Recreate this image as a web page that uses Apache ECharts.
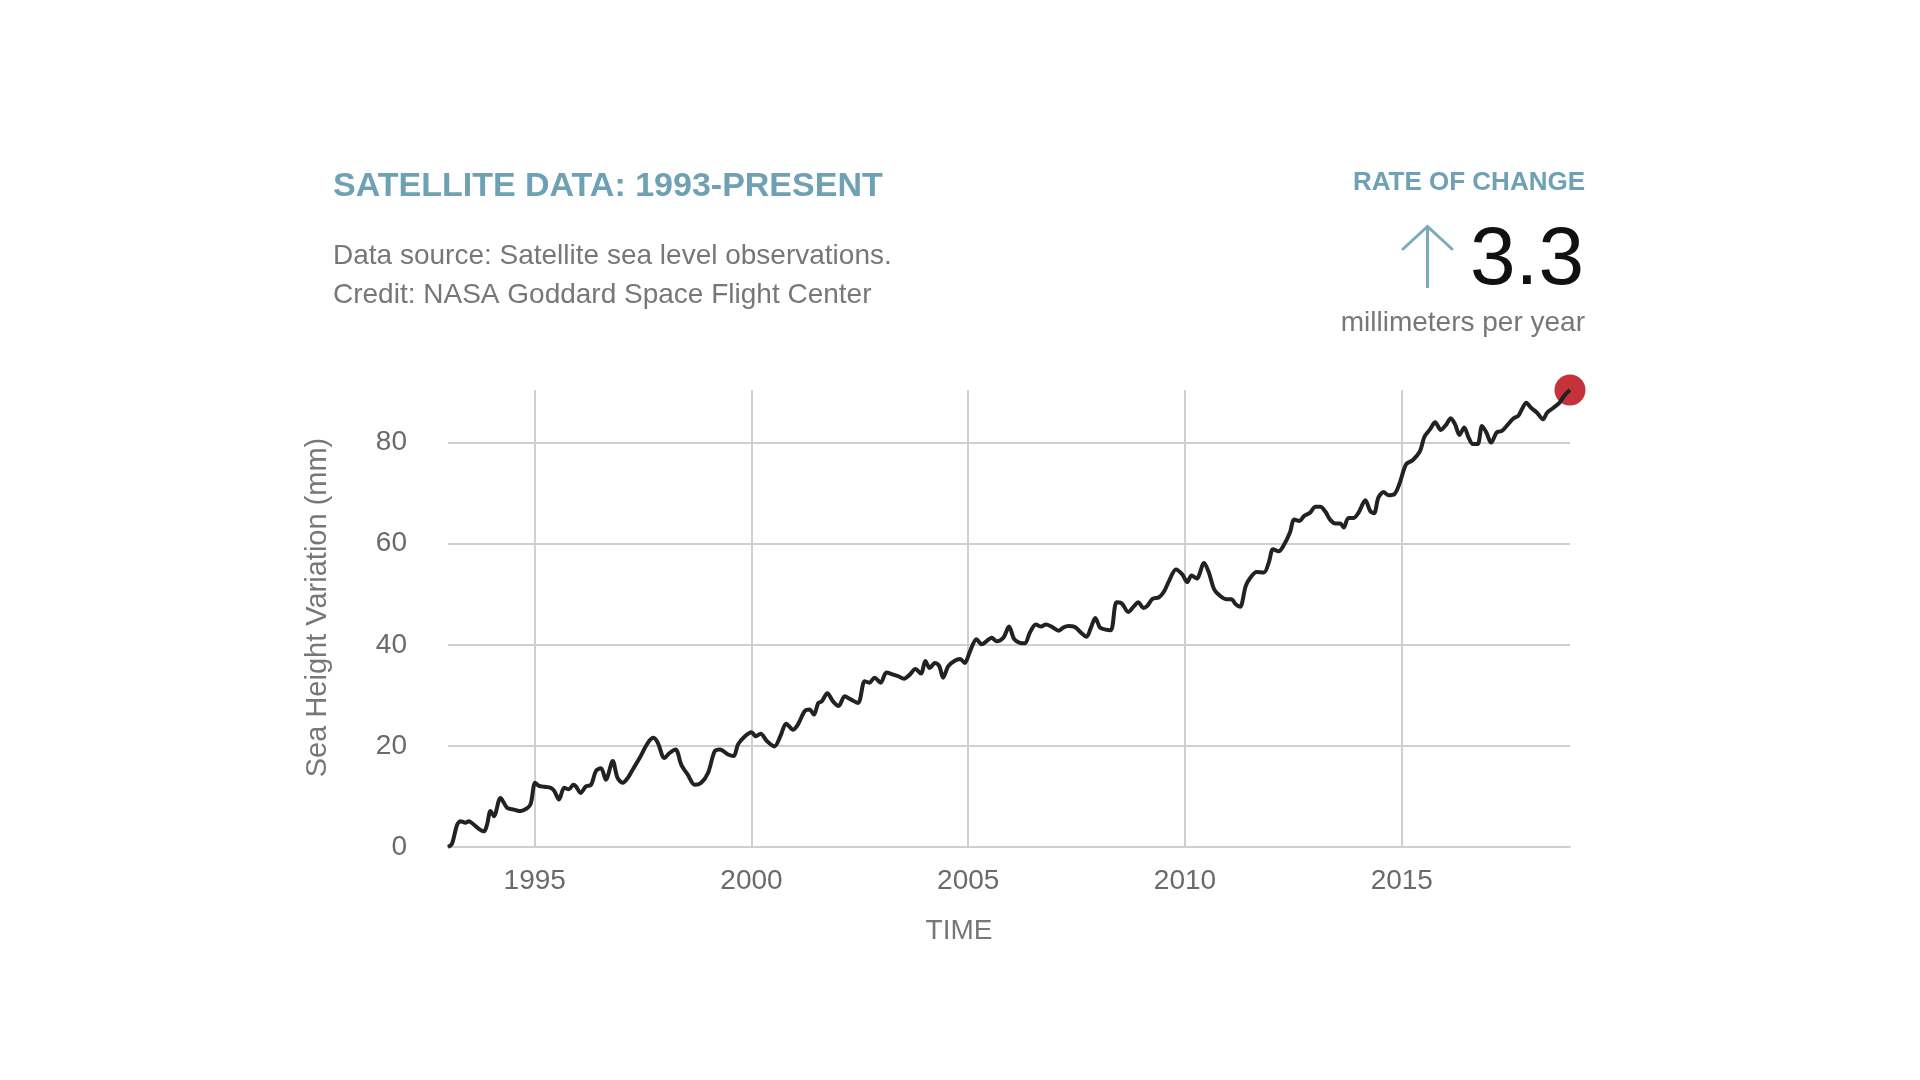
<!DOCTYPE html>
<html>
<head>
<meta charset="utf-8">
<style>
html,body{margin:0;padding:0;background:#fff;}
#chart{width:1920px;height:1080px;}
</style>
<script src="https://cdn.jsdelivr.net/npm/echarts@6/dist/echarts.min.js"></script>
</head>
<body>
<div id="chart"></div>
<script>
const years = [
1993.00,1993.09,1993.21,1993.29,1993.40,1993.48,1993.60,1993.71,1993.83,1993.90,1993.98,1994.06,1994.21,1994.37,1994.52,1994.64,1994.83,1994.91,
1995.01,1995.10,1995.22,1995.37,1995.45,1995.56,1995.68,1995.79,1995.89,1995.95,1996.06,1996.18,1996.30,1996.41,1996.53,1996.64,1996.80,1996.91,
1997.03,1997.15,1997.26,1997.42,1997.61,1997.74,1997.84,1997.99,1998.11,1998.25,1998.38,1998.53,1998.69,1998.84,1999.00,1999.15,1999.27,1999.46,
1999.59,1999.69,1999.85,2000.00,2000.10,2000.21,2000.36,2000.53,2000.67,2000.80,2000.96,2001.07,2001.23,2001.34,2001.44,2001.54,2001.62,2001.75,
2001.88,2002.01,2002.15,2002.29,2002.46,2002.61,2002.72,2002.84,2002.98,2003.11,2003.27,2003.38,2003.52,2003.65,2003.78,2003.91,2004.01,2004.11,
2004.23,2004.33,2004.42,2004.54,2004.68,2004.81,2004.92,2005.04,2005.19,2005.31,2005.42,2005.54,2005.65,2005.81,2005.94,2006.06,2006.19,2006.31,
2006.42,2006.56,2006.68,2006.79,2006.92,2007.09,2007.19,2007.31,2007.46,2007.60,2007.73,2007.83,2007.93,2008.04,2008.17,2008.29,2008.42,2008.54,
2008.69,2008.83,2008.92,2009.04,2009.13,2009.25,2009.40,2009.52,2009.63,2009.79,2009.94,2010.05,2010.15,2010.27,2010.44,2010.55,2010.67,2010.82,
2010.96,2011.07,2011.17,2011.27,2011.40,2011.51,2011.65,2011.82,2011.93,2012.03,2012.16,2012.29,2012.42,2012.52,2012.64,2012.75,2012.88,2013.01,
2013.12,2013.24,2013.35,2013.47,2013.58,2013.66,2013.77,2013.89,2014.00,2014.16,2014.27,2014.36,2014.46,2014.58,2014.69,2014.83,2014.94,2015.10,
2015.25,2015.42,2015.52,2015.65,2015.77,2015.90,2016.02,2016.13,2016.23,2016.33,2016.44,2016.54,2016.64,2016.75,2016.85,2016.95,2017.06,2017.19,
2017.31,2017.42,2017.58,2017.69,2017.77,2017.87,2017.98,2018.12,2018.26,2018.35,2018.50,2018.64,2018.75,2018.88
];
const seaLevel = [
0.0,0.6,4.4,5.1,4.8,5.1,4.4,3.6,3.1,4.4,7.1,6.1,9.7,7.7,7.4,7.1,7.7,8.6,
12.7,12.1,11.9,11.7,11.1,9.4,11.7,11.4,12.3,12.0,10.7,12.0,12.3,15.0,15.6,13.3,17.0,13.7,
12.7,13.7,15.3,17.6,20.6,21.6,20.6,17.6,18.6,19.3,16.3,14.3,12.3,12.7,14.7,18.9,19.3,18.3,
18.0,20.3,21.9,22.7,21.9,22.4,20.9,19.9,22.0,24.4,23.2,24.2,26.9,27.2,26.2,28.5,28.8,30.4,
28.8,27.9,29.8,29.2,28.5,32.8,32.5,33.5,32.5,34.5,34.1,33.8,33.3,34.1,35.2,34.3,36.8,35.4,
36.4,35.8,33.5,35.8,36.8,37.2,36.4,38.7,41.1,40.1,40.7,41.4,40.7,41.4,43.6,41.1,40.4,40.3,
42.4,44.0,43.6,44.0,43.6,42.8,43.4,43.7,43.5,42.4,41.6,43.4,45.3,43.4,43.0,42.9,48.4,48.2,
46.5,47.7,48.4,47.3,47.7,49.1,49.4,50.6,52.6,54.9,53.9,52.4,53.7,53.1,56.2,54.3,51.0,49.6,
49.0,49.0,48.0,47.5,51.6,53.3,54.4,54.3,56.2,58.9,58.5,59.9,62.2,64.8,64.5,65.5,66.1,67.3,
67.3,66.3,64.7,64.0,64.0,63.2,65.1,65.1,66.1,68.6,66.5,66.0,69.1,70.2,69.6,69.8,71.7,75.7,
76.5,78.3,81.1,82.6,84.0,82.5,83.5,84.8,83.6,81.5,83.0,81.0,79.7,79.7,83.3,82.0,80.0,82.0,
82.3,83.3,84.8,85.3,86.6,87.9,86.9,85.9,84.6,85.9,86.9,87.9,89.3,90.4
];
const titleText = 'SATELLITE DATA: 1993-PRESENT';
const sourceLines = ['Data source: Satellite sea level observations.', 'Credit: NASA Goddard Space Flight Center'];
const rateLabel = 'RATE OF CHANGE';
const rateValue = '3.3';
const rateUnit = 'millimeters per year';
const xName = 'TIME';
const yName = 'Sea Height Variation (mm)';

const seriesData = years.map((y, i) => [y, seaLevel[i]]);
const lastPoint = seriesData[seriesData.length - 1];

const FONT = '"Liberation Sans", Arial, Helvetica, sans-serif';
const BLUE = '#6fa1b4';
const GRAY = '#777777';
const GRID = '#cfcfcf';

const chart = echarts.init(document.getElementById('chart'), null, {renderer: 'canvas'});
chart.setOption({
  animation: false,
  backgroundColor: '#ffffff',
  textStyle: {fontFamily: FONT},
  grid: {left: 448, right: 350, top: 390, bottom: 233, containLabel: false},
  xAxis: {
    type: 'value',
    min: years[0],
    max: lastPoint[0],
    splitNumber: 5,
    name: xName,
    nameLocation: 'middle',
    nameGap: 70,
    nameTextStyle: {fontSize: 28, color: GRAY, fontFamily: FONT, padding: [0, 100, 0, 0]},
    axisLine: {show: true, lineStyle: {color: GRID, width: 2}},
    axisTick: {show: false},
    axisLabel: {fontSize: 28, color: '#6a6a6a', margin: 20, showMinLabel: false, showMaxLabel: false, fontFamily: FONT,
      formatter: function (v) { return String(Math.round(v)); }},
    splitLine: {show: true, showMinLine: false, showMaxLine: false, lineStyle: {color: GRID, width: 2}}
  },
  yAxis: {
    type: 'value',
    min: 0,
    max: lastPoint[1],
    interval: 20,
    name: yName,
    nameLocation: 'middle',
    nameGap: 116,
    nameRotate: 90,
    nameTextStyle: {fontSize: 29, color: GRAY, fontFamily: FONT, padding: [0, 0, 0, 22]},
    axisLine: {show: false},
    axisTick: {show: false},
    axisLabel: {fontSize: 28, color: '#6a6a6a', margin: 41, showMaxLabel: false, fontFamily: FONT},
    splitLine: {show: true, showMinLine: false, showMaxLine: false, lineStyle: {color: GRID, width: 2}}
  },
  series: [
    {
      type: 'scatter',
      data: [lastPoint],
      symbolSize: 31,
      itemStyle: {color: '#c5323b', opacity: 1},
      clip: false,
      z: 2,
      silent: true
    },
    {
      type: 'line',
      data: seriesData,
      showSymbol: false,
      smooth: 0.3,
      clip: false,
      lineStyle: {color: '#222222', width: 4},
      z: 3
    }
  ],
  graphic: [
    {type: 'text', left: 333, top: 170, style: {text: titleText, font: 'bold 34px ' + FONT, fill: BLUE}},
    {type: 'text', left: 333, top: 242, style: {text: sourceLines[0], font: '28px ' + FONT, fill: GRAY}},
    {type: 'text', left: 333, top: 281, style: {text: sourceLines[1], font: '28px ' + FONT, fill: GRAY}},
    {type: 'text', right: 335, top: 170, style: {text: rateLabel, font: 'bold 26px ' + FONT, fill: BLUE}},
    {type: 'text', right: 336, top: 220, style: {text: rateValue, font: '82px ' + FONT, fill: '#111111'}},
    {type: 'text', right: 335, top: 309, style: {text: rateUnit, font: '28px ' + FONT, fill: GRAY}},
    {type: 'polyline', shape: {points: [[1427.5, 288], [1427.5, 227]]}, style: {stroke: '#7aaabb', lineWidth: 3, fill: null}},
    {type: 'polyline', shape: {points: [[1403, 249], [1427.5, 226.5], [1452, 249]]}, style: {stroke: '#7aaabb', lineWidth: 3, fill: null, lineCap: 'round', lineJoin: 'miter'}}
  ]
});
</script>
</body>
</html>
